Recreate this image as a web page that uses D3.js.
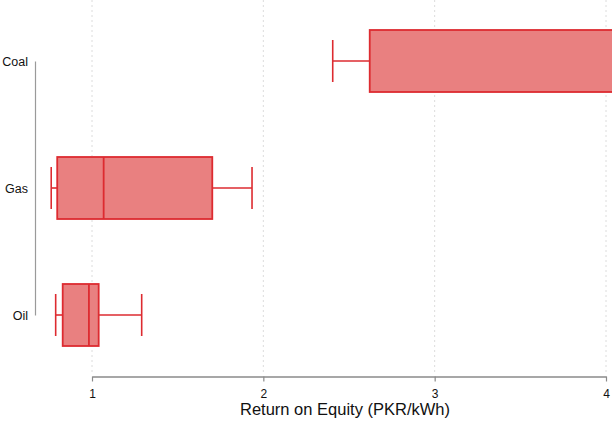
<!DOCTYPE html>
<html>
<head>
<meta charset="utf-8">
<script src="https://cdn.jsdelivr.net/npm/d3@7"></script>
<style>
  html, body { margin: 0; padding: 0; background: #fff; }
  svg { display: block; font-family: "Liberation Sans", Arial, sans-serif; }
</style>
</head>
<body>
<svg id="chart" width="612" height="421"></svg>
<script>
// Return on equity by fuel type (PKR/kWh): five-number summaries
const categories = ["Coal", "Gas", "Oil"];
const whiskerLow = [2.405, 0.762, 0.788];
const quartile1  = [2.621, 0.797, 0.829];
const medians    = [4.40, 1.068, 0.982];
const quartile3  = [5.10, 1.702, 1.039];
const whiskerHigh = [5.70, 1.934, 1.290];
const xTicks = [1, 2, 3, 4];
const xTitle = "Return on Equity (PKR/kWh)";

const svg = d3.select("#chart");

const x = d3.scaleLinear().domain([1, 4]).range([92, 606]);
const y = d3.scalePoint().domain(categories).range([61, 315]);

const boxH = 62, capH = 42;
const stroke = "#dd2b30", fill = "#e98080";

// vertical dotted gridlines
svg.append("g").selectAll("line").data(xTicks).join("line")
  .attr("x1", d => x(d)).attr("x2", d => x(d))
  .attr("y1", 0).attr("y2", 372)
  .attr("stroke", "#dcdcdc").attr("stroke-width", 1)
  .attr("stroke-dasharray", "2,3");

// x axis
const xAxis = svg.append("g").attr("transform", "translate(0,376.5)")
  .call(d3.axisBottom(x).tickValues(xTicks).tickFormat(d3.format("d")).tickSize(5).tickSizeOuter(0));
xAxis.select(".domain").attr("stroke", "#8a8a8a").attr("stroke-width", 1.5);
xAxis.selectAll(".tick line").attr("stroke", "#8a8a8a").attr("stroke-width", 1.2);
xAxis.selectAll(".tick text").attr("font-size", 12).attr("fill", "#111").attr("dy", "1.15em")
  .attr("font-family", "Liberation Sans, Arial, sans-serif");

svg.append("text").attr("x", 345).attr("y", 415)
  .attr("text-anchor", "middle").attr("font-size", 16.5).attr("fill", "#111")
  .text(xTitle);

// y axis
const yAxis = svg.append("g").attr("transform", "translate(35,0)")
  .call(d3.axisLeft(y).tickSize(0).tickPadding(7));
yAxis.select(".domain").attr("stroke", "#9a9a9a").attr("stroke-width", 1.2);
yAxis.selectAll(".tick text").attr("font-size", 12.5).attr("fill", "#111")
  .attr("font-family", "Liberation Sans, Arial, sans-serif");

// box plots
const rows = categories.map((c, i) => ({
  c, lo: whiskerLow[i], q1: quartile1[i], med: medians[i], q3: quartile3[i], hi: whiskerHigh[i]
}));

const g = svg.append("g").selectAll("g").data(rows).join("g");

// whisker stems
g.append("line").attr("x1", d => x(d.lo)).attr("x2", d => x(d.q1))
  .attr("y1", d => y(d.c)).attr("y2", d => y(d.c))
  .attr("stroke", stroke).attr("stroke-width", 1.6);
g.append("line").attr("x1", d => x(d.q3)).attr("x2", d => x(d.hi))
  .attr("y1", d => y(d.c)).attr("y2", d => y(d.c))
  .attr("stroke", stroke).attr("stroke-width", 1.6);
// whisker caps
g.append("line").attr("x1", d => x(d.lo)).attr("x2", d => x(d.lo))
  .attr("y1", d => y(d.c) - capH / 2).attr("y2", d => y(d.c) + capH / 2)
  .attr("stroke", stroke).attr("stroke-width", 1.6);
g.append("line").attr("x1", d => x(d.hi)).attr("x2", d => x(d.hi))
  .attr("y1", d => y(d.c) - capH / 2).attr("y2", d => y(d.c) + capH / 2)
  .attr("stroke", stroke).attr("stroke-width", 1.6);
// boxes
g.append("rect").attr("x", d => x(d.q1)).attr("width", d => x(d.q3) - x(d.q1))
  .attr("y", d => y(d.c) - boxH / 2).attr("height", boxH)
  .attr("fill", fill).attr("stroke", stroke).attr("stroke-width", 1.8);
// medians
g.append("line").attr("x1", d => x(d.med)).attr("x2", d => x(d.med))
  .attr("y1", d => y(d.c) - boxH / 2).attr("y2", d => y(d.c) + boxH / 2)
  .attr("stroke", stroke).attr("stroke-width", 1.8);
</script>
</body>
</html>
